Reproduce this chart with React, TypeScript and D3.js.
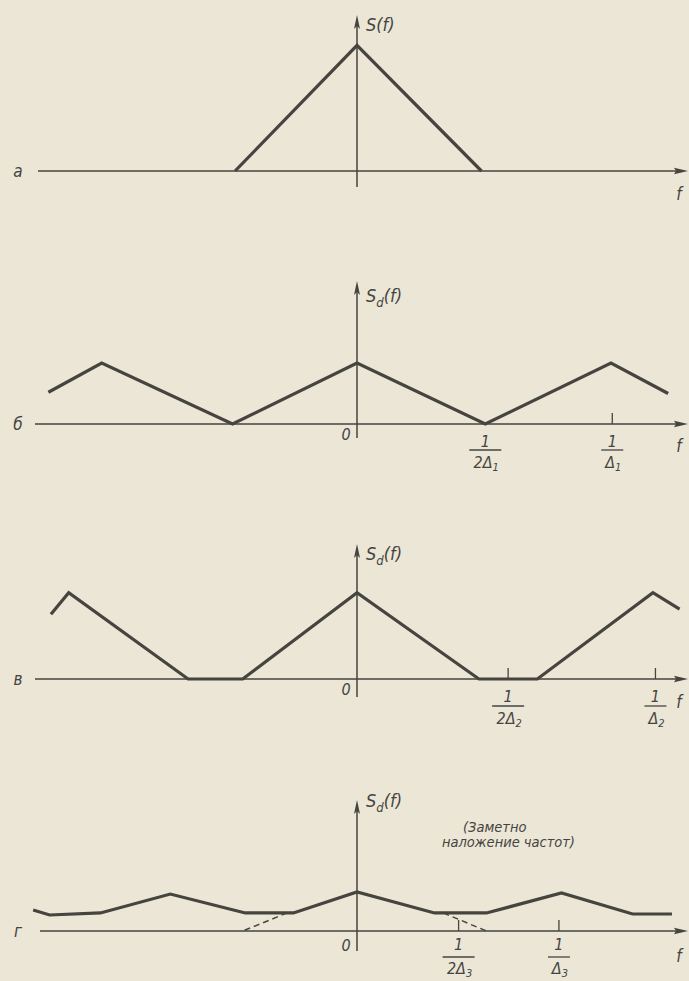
import * as React from 'react';
import * as d3 from 'd3';

// spectrum vertices as [f, S] pairs; f in units of the half-width of S(f)
const specA = [[-0.96, 0], [0, 0.99], [0.98, 0]];
const specB = [[-2.43, 0.25], [-2.01, 0.48], [-0.98, 0], [0, 0.48], [1.01, 0], [2.0, 0.48], [2.45, 0.24]];
const specV = [[-2.41, 0.51], [-2.27, 0.68], [-1.33, 0], [-0.9, 0], [0, 0.68], [0.96, 0], [1.42, 0], [2.33, 0.68], [2.54, 0.55]];
const specG = [
  [-2.55, 0.165], [-2.42, 0.126], [-2.02, 0.142], [-1.47, 0.291], [-0.88, 0.142], [-0.5, 0.142],
  [0, 0.307], [0.61, 0.142], [1.02, 0.142], [1.61, 0.299], [2.17, 0.134], [2.48, 0.134],
];
const overlapG = [
  [[-0.55, 0.142], [-0.9, 0]],
  [[0.68, 0.142], [1.02, 0]],
];

// labelled frequencies and the ones that carry a tick mark
const labelsAtB = [1.01, 2.01];
const labelsAtV = [1.19, 2.35];
const labelsAtG = [0.8, 1.59];
const marksB = [2.01];
const marksV = [1.19, 2.35];
const marksG = [0.8, 1.59];
const tickLabelsB = [['1', '2Δ', '1'], ['1', 'Δ', '1']];
const tickLabelsV = [['1', '2Δ', '2'], ['1', 'Δ', '2']];
const tickLabelsG = [['1', '2Δ', '3'], ['1', 'Δ', '3']];

const panelLetters = ['а', 'б', 'в', 'г'];
const note = ['(Заметно', 'наложение частот)'];

const W = 689;
const H = 981;
const INK = '#45443f';
const BG = '#ebe6d6';
const FONT = "'DejaVu Sans Condensed', 'Liberation Sans Narrow', 'DejaVu Sans', sans-serif";

const x = d3.scaleLinear().domain([0, 1]).range([357, 484]);

// one entry per panel: baseline, axis extents, label offsets
const panels = [
  {spec: specA, base: 171, top: 15, bottom: 187, x0: 38, sub: '', titleY: 31, at: [], marks: [], labels: [], zero: false, fY: 200, gap: [0, 0, 0]},
  {spec: specB, base: 424, top: 281, bottom: 438, x0: 35, sub: 'd', titleY: 302, at: labelsAtB, marks: marksB, labels: tickLabelsB, zero: true, fY: 452, gap: [23, 26, 44]},
  {spec: specV, base: 679, top: 544, bottom: 697, x0: 35, sub: 'd', titleY: 560, at: labelsAtV, marks: marksV, labels: tickLabelsV, zero: true, fY: 708, gap: [23, 27, 45]},
  {spec: specG, base: 931, top: 800, bottom: 951, x0: 40, sub: 'd', titleY: 807, at: labelsAtG, marks: marksG, labels: tickLabelsG, zero: true, fY: 962, gap: [19, 26, 43]},
];

function Panel({p, i}) {
  const y = d3.scaleLinear().domain([0, 1]).range([p.base, p.base - 127]);
  const line = d3.line().x(d => x(d[0])).y(d => y(d[1]));
  const x0 = x(0);
  return (
    <g>
      {/* f axis */}
      <line x1={p.x0} x2={684} y1={p.base} y2={p.base} stroke={INK} strokeWidth={1.7} />
      <path d={`M688,${p.base} L674,${p.base - 3.2} L676,${p.base} L674,${p.base + 3.2} Z`} fill={INK} />
      {/* S axis */}
      <line x1={x0} x2={x0} y1={p.top + 4} y2={p.bottom} stroke={INK} strokeWidth={1.5} />
      <path d={`M${x0},${p.top} L${x0 - 3},${p.top + 14} L${x0},${p.top + 11} L${x0 + 3},${p.top + 14} Z`} fill={INK} />
      <text x={x0 + 9} y={p.titleY} fontSize={18} fill={INK} fontFamily={FONT} fontStyle="italic">
        S
        {p.sub && <tspan fontSize={13} dy={5}>{p.sub}</tspan>}
        <tspan dy={p.sub ? -5 : 0}>(f)</tspan>
      </text>
      <text x={18} y={p.base + 6} fontSize={17} fill={INK} fontFamily={FONT} fontStyle="italic" textAnchor="middle">{panelLetters[i]}</text>
      <text x={679} y={p.fY} fontSize={17} fill={INK} fontFamily={FONT} fontStyle="italic" textAnchor="middle">f</text>
      {p.zero && (
        <text x={x0 - 11} y={p.base + 16 + (i === 3 ? 4 : 0)} fontSize={16} fill={INK} fontFamily={FONT} fontStyle="italic" textAnchor="middle">0</text>
      )}
      {p.marks.map((t, k) => (
        <line key={k} x1={x(t)} x2={x(t)} y1={p.base - 11} y2={p.base} stroke={INK} strokeWidth={1.3} />
      ))}
      {p.at.map((t, k) => {
        const lab = p.labels[k];
        const tx = x(t);
        const w = lab[1].length > 1 ? 32 : 22;
        return (
          <g key={k}>
            <text x={tx} y={p.base + p.gap[0]} fontSize={16} fill={INK} fontFamily={FONT} fontStyle="italic" textAnchor="middle">{lab[0]}</text>
            <line x1={tx - w / 2} x2={tx + w / 2} y1={p.base + p.gap[1]} y2={p.base + p.gap[1]} stroke={INK} strokeWidth={1.3} />
            <text x={tx + 1} y={p.base + p.gap[2]} fontSize={16} fill={INK} fontFamily={FONT} fontStyle="italic" textAnchor="middle">
              {lab[1]}<tspan fontSize={11} dy={3}>{lab[2]}</tspan>
            </text>
          </g>
        );
      })}
      <path d={line(p.spec)} fill="none" stroke={INK} strokeWidth={3.2} strokeLinejoin="miter" />
      {i === 3 && overlapG.map((seg, k) => (
        <path key={k} d={line(seg)} fill="none" stroke={INK} strokeWidth={1.4} strokeDasharray="6,4" />
      ))}
    </g>
  );
}

export default function App() {
  React.useEffect(() => {
    document.body.style.margin = '0';
  }, []);
  return (
    <svg width={W} height={H} style={{position: 'absolute', left: 0, top: 0, display: 'block'}}>
      <rect width={W} height={H} fill={BG} />
      {panels.map((p, i) => <Panel key={i} p={p} i={i} />)}
      <text x={463} y={832} fontSize={14.5} fill={INK} fontFamily={FONT} fontStyle="italic">{note[0]}</text>
      <text x={442} y={847} fontSize={14.5} fill={INK} fontFamily={FONT} fontStyle="italic">{note[1]}</text>
    </svg>
  );
}
